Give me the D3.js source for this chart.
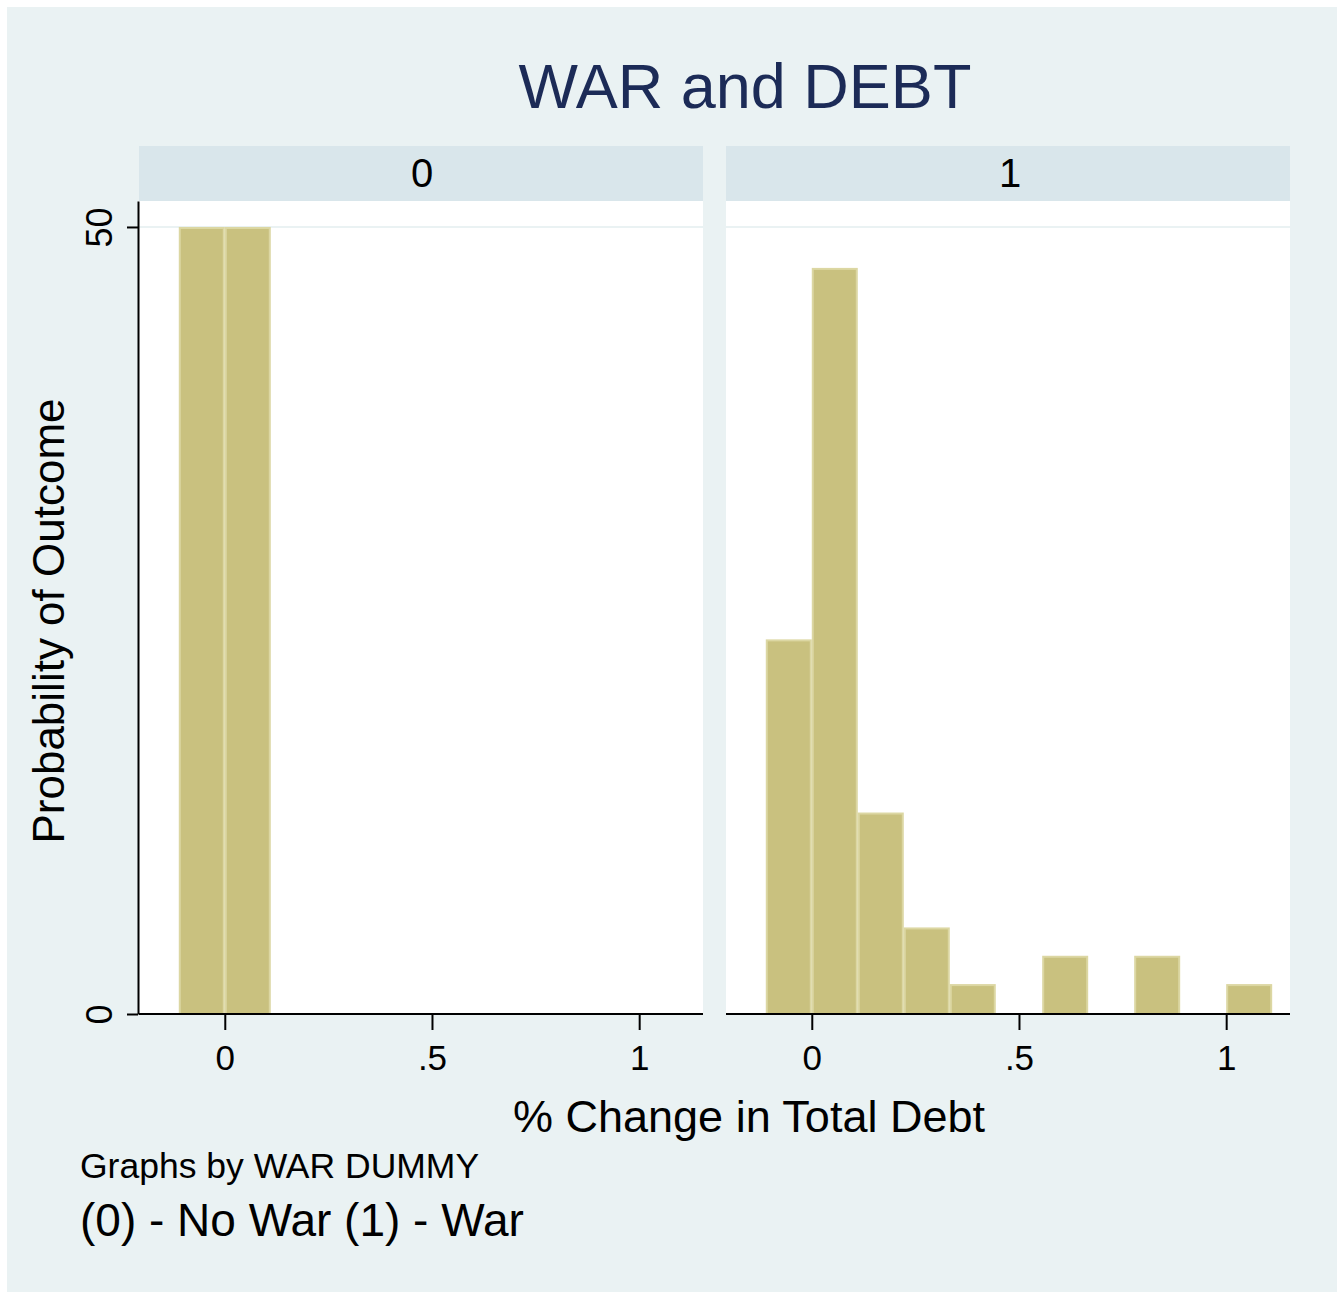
<!DOCTYPE html>
<html>
<head>
<meta charset="utf-8">
<script src="https://cdn.jsdelivr.net/npm/d3@7"></script>
<style>
  body { margin: 0; background: #fff; }
  text { font-family: "Liberation Sans", Arial, sans-serif; }
</style>
</head>
<body>
<svg id="chart"></svg>
<script>
// histogram bins (left edges, width 1/9) and percent per bin
const binStarts = [-0.111, 0, 0.111, 0.222, 0.333, 0.444, 0.556, 0.667, 0.778, 0.889, 1.0];
const binWidth = 0.111;
const noWarPct = [50, 50, 0, 0, 0, 0, 0, 0, 0, 0, 0];
const warPct = [23.8, 47.4, 12.8, 5.5, 1.9, 0, 3.7, 0, 3.7, 0, 1.9];
const panelLabels = ['0', '1'];
const xTicks = [0, 0.5, 1];
const xTickLabels = ['0', '.5', '1'];
const yTicks = [0, 50];

const width = 1344;
const height = 1292;

const svg = d3.select('#chart')
    .attr('width', width)
    .attr('height', height);

svg.append('rect')
    .attr('x', 7).attr('y', 7)
    .attr('width', 1330).attr('height', height - 7)
    .attr('fill', '#eaf2f3');

const plotTop = 201;
const plotBottom = 1014;
const stripTop = 146;
const panelLefts = [139, 726];
const panelW = 564;

const y = d3.scaleLinear().domain([0, 51.65]).range([plotBottom, plotTop]);

const panels = [noWarPct, warPct];

panels.forEach((vals, p) => {
    const left = panelLefts[p];
    const x = d3.scaleLinear().domain([-0.207, 1.154]).range([left, left + panelW]);
    const g = svg.append('g');

    // strip
    g.append('rect')
        .attr('x', left).attr('y', stripTop)
        .attr('width', panelW).attr('height', plotTop - stripTop)
        .attr('fill', '#d9e6eb');
    g.append('text')
        .attr('x', left + panelW / 2 + (p === 1 ? 2 : 1)).attr('y', 187)
        .attr('text-anchor', 'middle')
        .style('font-size', '40px')
        .text(panelLabels[p]);

    // plot region
    g.append('rect')
        .attr('x', left).attr('y', plotTop)
        .attr('width', panelW).attr('height', plotBottom - plotTop)
        .attr('fill', '#fff');

    // gridline at 50
    g.append('line')
        .attr('x1', left).attr('x2', left + panelW)
        .attr('y1', y(50)).attr('y2', y(50))
        .attr('stroke', '#eaf2f3').attr('stroke-width', 2);

    // bars
    const bins = binStarts.map((s, i) => ({ x0: s, x1: s + binWidth, v: vals[i] }))
        .filter(d => d.v > 0);
    g.selectAll('.bar')
        .data(bins)
        .enter()
        .append('rect')
        .attr('class', 'bar')
        .attr('x', d => x(d.x0) + 1)
        .attr('y', d => y(d.v) + 1)
        .attr('width', d => x(d.x1) - x(d.x0) - 2)
        .attr('height', d => y(0) - y(d.v) - 1)
        .attr('fill', '#c9c17f')
        .attr('stroke', '#dcd7a3')
        .attr('stroke-width', 2);

    // x axis
    const xAxis = d3.axisBottom(x)
        .tickValues(xTicks)
        .tickFormat((d, i) => xTickLabels[i])
        .tickSize(16)
        .tickPadding(15)
        .tickSizeOuter(0);
    const xg = g.append('g')
        .attr('transform', `translate(0,${plotBottom})`)
        .call(xAxis);
    xg.select('.domain').attr('stroke', '#000').attr('stroke-width', 2)
        .attr('d', `M${left},0H${left + panelW}`);
    xg.selectAll('.tick line').attr('stroke', '#000').attr('stroke-width', 2);
    xg.selectAll('.tick text')
        .attr('fill', '#000')
        .style('font-size', '35px')
        .style('font-family', '"Liberation Sans", Arial, sans-serif');

    // y axis only on first panel
    if (p === 0) {
        const yAxis = d3.axisLeft(y)
            .tickValues(yTicks)
            .tickSize(11)
            .tickPadding(0)
            .tickSizeOuter(0);
        const yg = g.append('g')
            .attr('transform', `translate(${left - 1},0)`)
            .call(yAxis);
        yg.select('.domain').attr('stroke', '#000').attr('stroke-width', 2);
        yg.selectAll('.tick line').attr('stroke', '#000').attr('stroke-width', 2);
        yg.selectAll('.tick text')
            .attr('fill', '#000')
            .attr('x', null).attr('dy', null)
            .attr('text-anchor', 'middle')
            .attr('transform', 'translate(-26,0) rotate(-90)')
            .style('font-size', '36px')
            .style('font-family', '"Liberation Sans", Arial, sans-serif');
    }
});

// titles
svg.append('text')
    .attr('x', 745).attr('y', 108)
    .attr('text-anchor', 'middle')
    .attr('fill', '#1c2b57')
    .style('font-size', '63px')
    .text('WAR and DEBT');

svg.append('text')
    .attr('x', 749).attr('y', 1132)
    .attr('text-anchor', 'middle')
    .style('font-size', '45px')
    .text('% Change in Total Debt');

svg.append('text')
    .attr('transform', 'translate(64,621) rotate(-90)')
    .attr('text-anchor', 'middle')
    .style('font-size', '44px')
    .text('Probability of Outcome');

svg.append('text')
    .attr('x', 80).attr('y', 1178)
    .style('font-size', '35.5px')
    .text('Graphs by WAR DUMMY');

svg.append('text')
    .attr('x', 80).attr('y', 1236)
    .style('font-size', '46px')
    .text('(0) - No War (1) - War');
</script>
</body>
</html>
